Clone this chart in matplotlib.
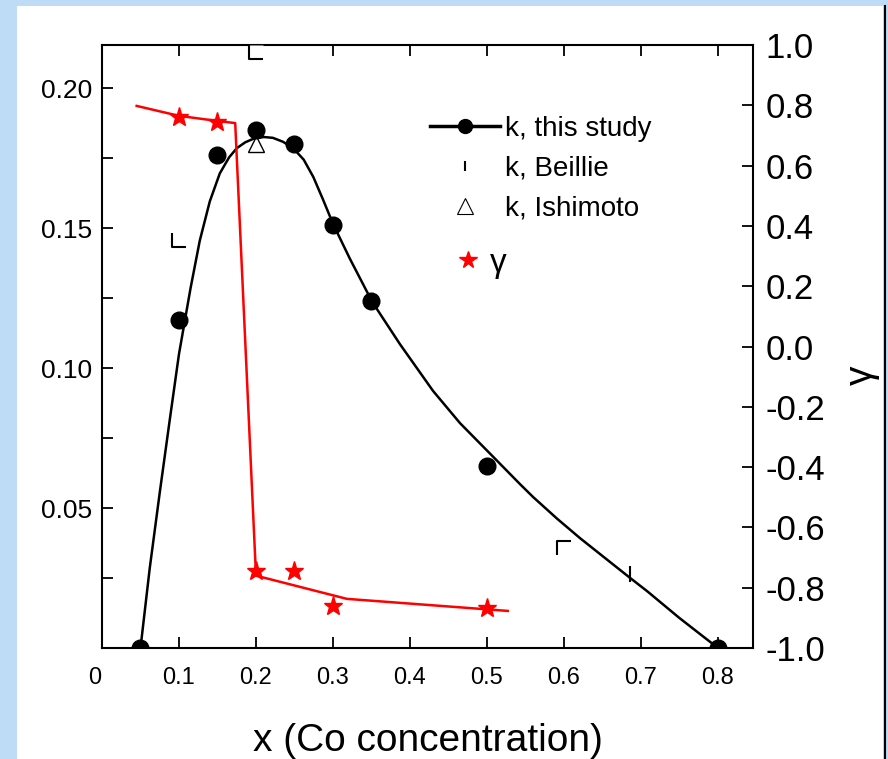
import matplotlib
matplotlib.use("Agg")
import matplotlib.pyplot as plt
from matplotlib.lines import Line2D
from matplotlib.path import Path
from matplotlib.patches import Rectangle
from matplotlib.transforms import ScaledTranslation

plt.rcParams['font.family'] = ['Liberation Sans', 'DejaVu Sans']

# k measured in this study
k_x = [0.05, 0.10, 0.15, 0.20, 0.25, 0.30, 0.35, 0.50, 0.80]
k_val = [0.0, 0.117, 0.176, 0.185, 0.180, 0.151, 0.124, 0.065, 0.0]

# smooth guide through the k data
fit_x = [0.05, 0.062, 0.075, 0.088, 0.10, 0.115, 0.127, 0.14, 0.153, 0.165,
         0.175, 0.186, 0.196, 0.21, 0.222, 0.235, 0.248, 0.262, 0.2745, 0.287,
         0.30, 0.322, 0.351, 0.387, 0.43, 0.465, 0.494, 0.508, 0.543, 0.56,
         0.591, 0.621, 0.664, 0.686, 0.708, 0.75, 0.80]
fit_k = [0.0, 0.0285, 0.0555, 0.0815, 0.105, 0.1285, 0.1455, 0.1595, 0.1695, 0.1752,
         0.1785, 0.1806, 0.1818, 0.1825, 0.1822, 0.1808, 0.1786, 0.1744, 0.1682, 0.1602,
         0.1515, 0.139, 0.1236, 0.1085, 0.0918, 0.0803, 0.0722, 0.0683, 0.0585, 0.0539,
         0.0462, 0.0392, 0.0298, 0.025, 0.0203, 0.0107, 0.0]

# k from Beillie and Ishimoto
beillie_x = [0.10, 0.20, 0.60, 0.686]
beillie_k = [0.1457, 0.2130, 0.0357, 0.0263]
ishimoto_x = [0.20]
ishimoto_k = [0.180]

# gamma
gamma_x = [0.10, 0.15, 0.20, 0.25, 0.30, 0.50]
gamma_val = [0.760, 0.745, -0.745, -0.745, -0.860, -0.868]
gamma_line_x = [0.045, 0.10, 0.15, 0.173, 0.20, 0.318, 0.527]
gamma_line_val = [0.798, 0.765, 0.748, 0.741, -0.76, -0.837, -0.877]

x_ticks = [0, 0.1, 0.2, 0.3, 0.4, 0.5, 0.6, 0.7, 0.8]
x_labels = ['0', '0.1', '0.2', '0.3', '0.4', '0.5', '0.6', '0.7', '0.8']
k_ticks = [0.025, 0.05, 0.075, 0.10, 0.125, 0.15, 0.175, 0.20]
k_labels = ['', '0.05', '', '0.10', '', '0.15', '', '0.20']
g_ticks = [-1.0, -0.8, -0.6, -0.4, -0.2, 0.0, 0.2, 0.4, 0.6, 0.8, 1.0]

fig = plt.figure(figsize=(8.88, 7.59), dpi=100, facecolor='#bedcf6')
# white page behind the plot, with a dark rule on its right edge
fig.patches.append(Rectangle((17 / 888, 0), 866 / 888, 753 / 759, transform=fig.transFigure,
                             facecolor='white', edgecolor='none', zorder=-10))
fig.lines.append(Line2D([884.5 / 888, 884.5 / 888], [0, 753 / 759], transform=fig.transFigure,
                        color='black', lw=1.5, zorder=-9))

ax = fig.add_axes([102 / 888, 111 / 759, 651 / 888, 603 / 759])
ax.set_facecolor('none')
ax2 = ax.twinx()

ax.set_xlim(0, 0.8455)
ax.set_ylim(0, 0.21536)
ax2.set_ylim(-1, 1)

for s in ax.spines.values():
    s.set_linewidth(1.5)
ax.spines['right'].set_visible(False)
for side in ['top', 'left', 'bottom']:
    ax2.spines[side].set_visible(False)
ax2.spines['right'].set_linewidth(1.5)

ax.set_xticks(x_ticks)
ax.set_xticklabels(x_labels)
ax.set_yticks(k_ticks)
ax.set_yticklabels(k_labels)
ax.tick_params(axis='x', direction='in', top=True, length=8, width=1.3, labelsize=17, pad=14)
ax.tick_params(axis='y', direction='in', length=8, width=1.3, labelsize=19, pad=7)
ax2.set_yticks(g_ticks)
ax2.set_yticklabels(['%.1f' % v for v in g_ticks])
ax2.tick_params(axis='y', direction='in', length=8, width=1.3, labelsize=25, pad=9)

# nudge the origin label a little to the left of the corner
zero_lbl = ax.get_xticklabels()[0]
zero_lbl.set_transform(zero_lbl.get_transform() + ScaledTranslation(-0.07, 0, fig.dpi_scale_trans))

# k curve and data
ax.plot(fit_x, fit_k, color='black', lw=1.8, zorder=3)
ax.plot(ishimoto_x, ishimoto_k, linestyle='none', marker='^', markersize=12,
        markerfacecolor='white', markeredgecolor='black', markeredgewidth=1.0, zorder=4)
ax.plot(k_x, k_val, linestyle='none', marker='o', markersize=12, color='black', zorder=5)

# Beillie points drawn as corner brackets
corner_l = Path([(-0.5, 0.5), (-0.5, -0.5), (0.5, -0.5)], [Path.MOVETO, Path.LINETO, Path.LINETO])
corner_r = Path([(-0.5, -0.5), (-0.5, 0.5), (0.5, 0.5)], [Path.MOVETO, Path.LINETO, Path.LINETO])
bracket_styles = [corner_l, corner_l, corner_r, '|']
for bx, bk, m in zip(beillie_x, beillie_k, bracket_styles):
    if bk > 0.21:
        ax.plot([bx], [bk], linestyle='none', marker='s', markersize=9.4,
                markerfacecolor='white', markeredgecolor='none', clip_on=False, zorder=6)
    ax.plot([bx], [bk], linestyle='none', marker=m, markersize=9.4 if m != '|' else 11,
            markerfacecolor='none', markeredgecolor='black', markeredgewidth=1.5,
            clip_on=False, zorder=7)

# gamma
ax2.plot(gamma_line_x, gamma_line_val, color='red', lw=1.8, zorder=3)
ax2.plot(gamma_x, gamma_val, linestyle='none', marker='*', markersize=14, color='red', zorder=4)

ax.set_xlabel('x (Co concentration)', fontsize=28, labelpad=24)
ax2.set_ylabel('γ', fontsize=28, rotation=90)
ax2.yaxis.set_label_coords(1.14, 0.453)

handles = [
    Line2D([], [], color='black', lw=2.5, marker='o', markersize=10),
    Line2D([], [], linestyle='none', marker='|', markersize=7, markeredgewidth=1.5, color='black'),
    Line2D([], [], linestyle='none', marker='^', markersize=11, markerfacecolor='white',
           markeredgecolor='black', markeredgewidth=0.8),
]
leg1 = ax2.legend(handles, ['k, this study', 'k, Beillie', 'k, Ishimoto'],
                  loc='upper left', bbox_to_anchor=(0.504, 0.883), frameon=False,
                  fontsize=20, handlelength=2.5, handletextpad=0.2, labelspacing=0.5,
                  borderpad=0, borderaxespad=0)
ax2.add_artist(leg1)
star_handle = Line2D([], [], linestyle='none', marker='*', markersize=13, color='red')
ax2.legend([star_handle], ['γ'], loc='upper left', bbox_to_anchor=(0.504, 0.664), frameon=False,
           fontsize=24, handlelength=2.3, handletextpad=-0.5, borderpad=0, borderaxespad=0)

fig.savefig('out.png', dpi=100, facecolor=fig.get_facecolor())
